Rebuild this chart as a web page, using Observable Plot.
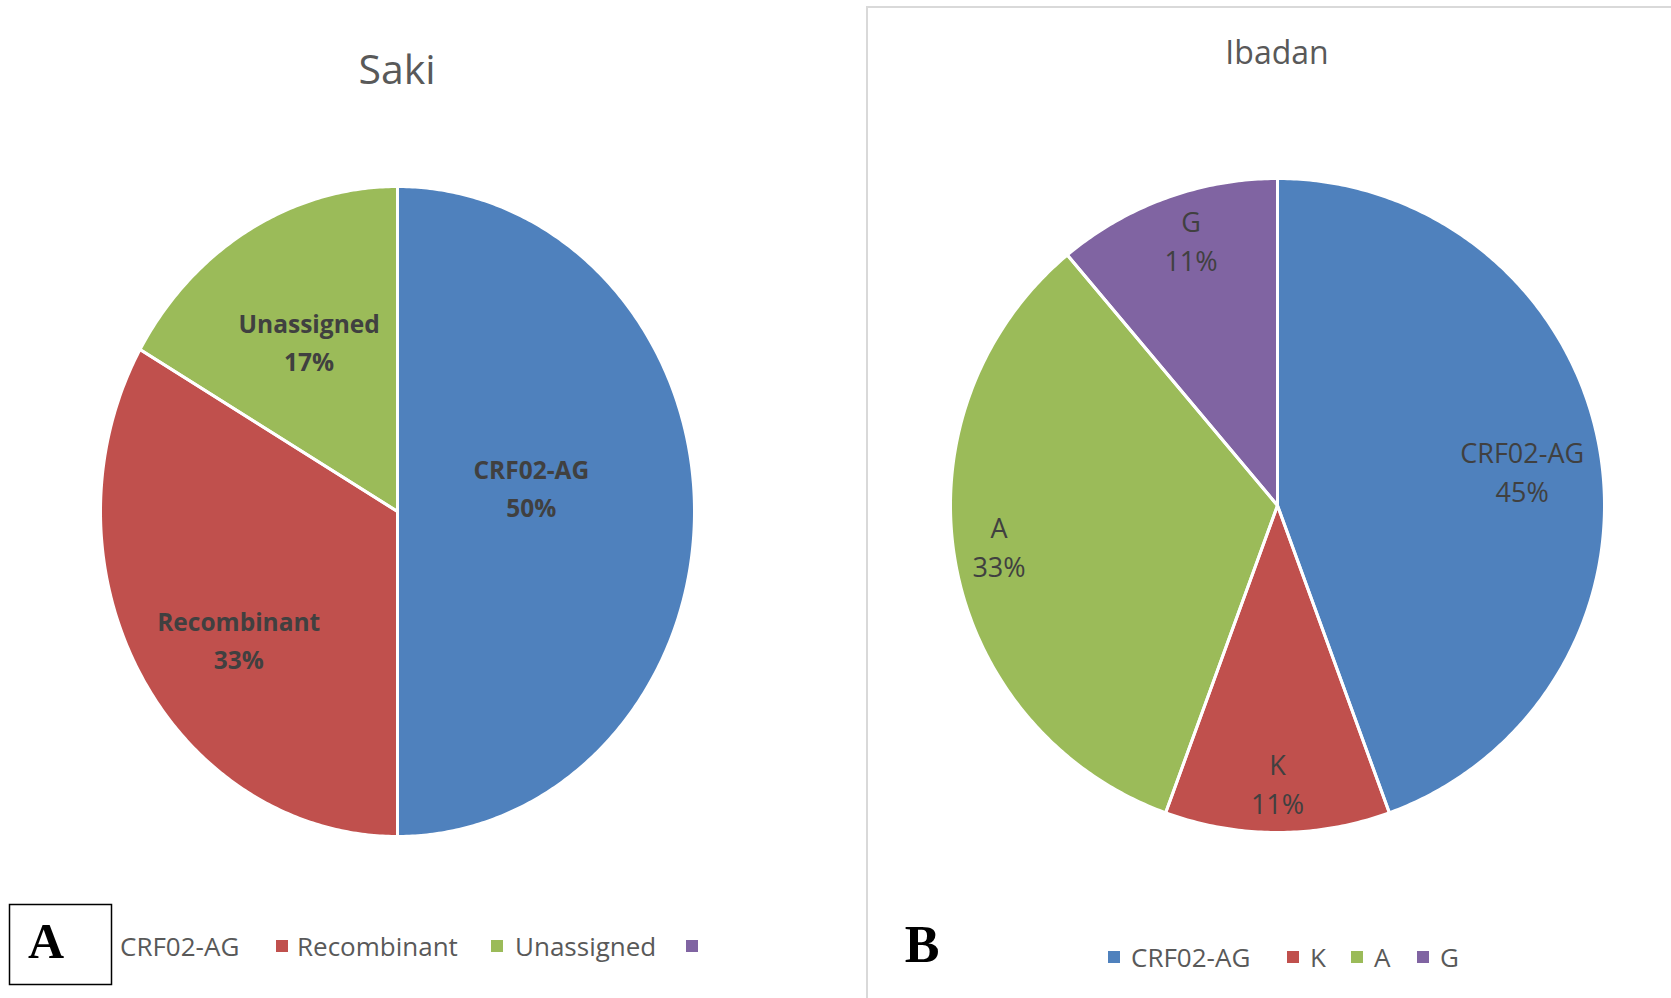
<!DOCTYPE html>
<html>
<head>
<meta charset="utf-8">
<script src="https://cdn.jsdelivr.net/npm/d3@7"></script>
<script src="https://cdn.jsdelivr.net/npm/@observablehq/plot@0.6"></script>
<style>
  html, body { margin: 0; padding: 0; background: #fff; }
  #page { position: relative; width: 1671px; height: 998px; overflow: hidden; background: #fff; }
  #page > svg { position: absolute; }
</style>
</head>
<body>
<div id="page"></div>
<script>
// ---------- data ----------
const sakiCategories = ["CRF02-AG", "Recombinant", "Unassigned"];
const sakiValues = [50, 33.3, 16.7];
const sakiLabels = ["50%", "33%", "17%"];

const ibadanCategories = ["CRF02-AG", "K", "A", "G"];
const ibadanValues = [44.4, 11.1, 33.3, 11.1];
const ibadanLabels = ["45%", "11%", "33%", "11%"];

const legendACategories = ["CRF02-AG", "Recombinant", "Unassigned", ""];
const legendBCategories = ["CRF02-AG", "K", "A", "G"];

const palette = ["#4F81BD", "#C0504D", "#9BBB59", "#8064A2"];

// ---------- layout options ----------
const FONT = "'Open Sans', 'Noto Sans', sans-serif";
const sakiLayout = {cx: 397, cy: 511, rx: 297, ry: 325, labelRadius: [0.455, 0.67, 0.594], labelTurn: [-8, -7, 0]};
const ibadanLayout = {cx: 1277, cy: 505, rx: 327, ry: 327, labelRadius: [0.756, 0.847, 0.86, 0.856], labelTurn: [1.8, 0, 2, 2]};

const page = document.getElementById("page");

// ---------- overlay (titles, legends, panel letters, frame) ----------
const W = 1671, H = 998;
const ov = d3.select(page).append("svg")
  .attr("width", W).attr("height", H)
  .style("left", "0px").style("top", "0px");

// right panel frame
ov.append("path")
  .attr("d", `M867,${H + 5} L867,7 L${W + 5},7`)
  .attr("fill", "none").attr("stroke", "#d9d9d9").attr("stroke-width", 2);

// titles
ov.append("text").attr("x", 397).attr("y", 84).attr("text-anchor", "middle")
  .attr("font-family", FONT).attr("font-size", 41).attr("fill", "#595959").text("Saki");
ov.append("text").attr("x", 1277).attr("y", 64).attr("text-anchor", "middle")
  .attr("font-family", FONT).attr("font-size", 32).attr("fill", "#595959").text("Ibadan");

// legends
function legend(cats, swatchX, textX, cy) {
  cats.forEach((c, i) => {
    ov.append("rect").attr("x", swatchX[i]).attr("y", cy - 6).attr("width", 12).attr("height", 12)
      .attr("fill", palette[i]);
    ov.append("text").attr("x", textX[i]).attr("y", cy + 10).attr("font-family", FONT)
      .attr("font-size", 26).attr("fill", "#595959").text(c);
  });
}
legend(legendACategories, [99, 276, 491, 686], [120, 297, 515, 707], 946);
legend(legendBCategories, [1108, 1287, 1351, 1417], [1131, 1310, 1374, 1440], 957);

// panel letter A (box hides first swatch) and B
ov.append("rect").attr("x", 9.5).attr("y", 904.5).attr("width", 102).attr("height", 80)
  .attr("fill", "#fff").attr("stroke", "#000").attr("stroke-width", 1.5);
ov.append("text").attr("x", 46).attr("y", 958).attr("text-anchor", "middle")
  .attr("font-family", "'Liberation Serif', serif").attr("font-weight", "bold")
  .attr("font-size", 50).attr("fill", "#000").text("A");
ov.append("text").attr("x", 922).attr("y", 962).attr("text-anchor", "middle")
  .attr("font-family", "'Liberation Serif', serif").attr("font-weight", "bold")
  .attr("font-size", 52).attr("fill", "#000").text("B");

// ---------- pies ----------
function pie(categories, values, labels, layout, labelStyle) {
  const arcs = d3.pie().sort(null)(values);
  const pts = [];
  arcs.forEach((a, i) => {
    const cat = categories[i];
    pts.push({cat, x: 0, y: 0});
    const n = Math.max(2, Math.ceil((a.endAngle - a.startAngle) / 0.01));
    for (let k = 0; k <= n; k++) {
      const t = a.startAngle + (a.endAngle - a.startAngle) * k / n;
      pts.push({cat, x: Math.sin(t), y: Math.cos(t)});
    }
    pts.push({cat, x: 0, y: 0});
  });
  const lab = arcs.map((a, i) => {
    const t = (a.startAngle + a.endAngle) / 2 + layout.labelTurn[i] * Math.PI / 180;
    const r = layout.labelRadius[i];
    return {cat: categories[i], x: r * Math.sin(t), y: r * Math.cos(t), text: categories[i] + "\n" + labels[i]};
  });
  const m = 4;
  const plot = Plot.plot({
    width: 2 * layout.rx + 2 * m,
    height: 2 * layout.ry + 2 * m,
    margin: m,
    x: {domain: [-1, 1], axis: null},
    y: {domain: [-1, 1], axis: null},
    color: {domain: categories, range: palette.slice(0, categories.length)},
    style: {background: "transparent", overflow: "visible"},
    marks: [
      Plot.line(pts, {x: "x", y: "y", z: "cat", fill: "cat", stroke: "none"}),
      Plot.line(pts, {x: "x", y: "y", z: "cat", stroke: "white", strokeWidth: 3, strokeLinejoin: "round"}),
      Plot.text(lab, {x: "x", y: "y", text: "text", fill: "#404040", fontFamily: FONT, ...labelStyle})
    ]
  });
  plot.style.position = "absolute";
  plot.style.left = (layout.cx - layout.rx - m) + "px";
  plot.style.top = (layout.cy - layout.ry - m) + "px";
  plot.style.maxWidth = "none";
  page.appendChild(plot);
}

pie(sakiCategories, sakiValues, sakiLabels, sakiLayout, {fontSize: 24.5, fontWeight: "bold", lineHeight: 1.56, dy: -5});
pie(ibadanCategories, ibadanValues, ibadanLabels, ibadanLayout, {fontSize: 27, fontWeight: "normal", lineHeight: 1.44});
</script>
</body>
</html>
